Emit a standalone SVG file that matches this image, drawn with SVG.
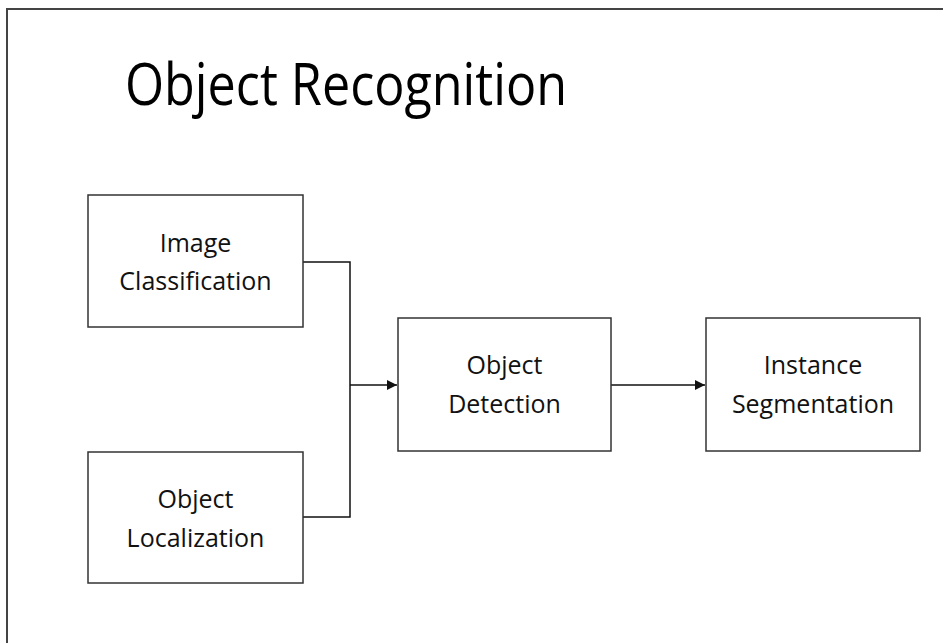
<svg xmlns="http://www.w3.org/2000/svg" width="943" height="643" viewBox="0 0 943 643">
<style>
.box{fill:#fff;stroke:#333;stroke-width:1.5}
.lbl{font-family:"Open Sans","Liberation Sans",sans-serif;font-size:25px;fill:#111;text-anchor:middle}
.title{font-family:"Open Sans","Liberation Sans",sans-serif;font-size:58px;fill:#000}
.conn{fill:none;stroke:#111;stroke-width:1.5}
</style>
<defs>
<marker id="arr" viewBox="0 0 10 10" refX="10" refY="5" markerWidth="10" markerHeight="10" markerUnits="userSpaceOnUse" orient="auto">
<path d="M0,0 L10,5 L0,10 z" fill="#111"/>
</marker>
</defs>
<rect x="0" y="0" width="943" height="643" fill="#fff"/>
<path d="M7,643 L7,9 L943,9" fill="none" stroke="#444" stroke-width="2"/>
<text class="title" x="125" y="105" textLength="442" lengthAdjust="spacingAndGlyphs">Object Recognition</text>
<g id="connectors">
<path class="conn" d="M303,262 H350 V517 H303"/>
<path class="conn" d="M350,385 H397" marker-end="url(#arr)"/>
<path class="conn" d="M611,385 H705" marker-end="url(#arr)"/>
</g>
<g id="image-classification">
<rect class="box" x="88" y="195" width="215" height="132"/>
<text class="lbl" x="195.5" y="252">Image</text>
<text class="lbl" x="195.5" y="290">Classification</text>
</g>
<g id="object-localization">
<rect class="box" x="88" y="452" width="215" height="131"/>
<text class="lbl" x="195.5" y="508">Object</text>
<text class="lbl" x="195.5" y="547">Localization</text>
</g>
<g id="object-detection">
<rect class="box" x="398" y="318" width="213" height="133"/>
<text class="lbl" x="504.5" y="374">Object</text>
<text class="lbl" x="504.5" y="413">Detection</text>
</g>
<g id="instance-segmentation">
<rect class="box" x="706" y="318" width="214" height="133"/>
<text class="lbl" x="813" y="374">Instance</text>
<text class="lbl" x="813" y="413">Segmentation</text>
</g>
</svg>
